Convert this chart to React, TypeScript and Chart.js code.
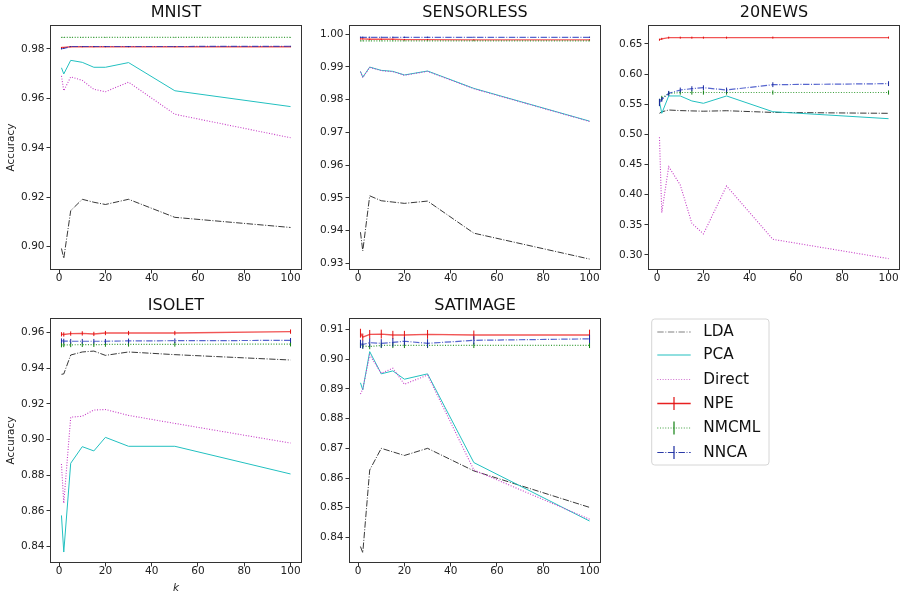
import { useEffect, useRef } from "react";
import { Chart, registerables } from "chart.js";

Chart.register(...registerables);
Chart.defaults.font.family = "'DejaVu Sans', 'Liberation Sans', sans-serif";
Chart.defaults.color = "#222";

// ---------------- data ----------------
const K = [1, 2, 5, 10, 15, 20, 30, 50, 100];
const METHODS = ["LDA", "PCA", "Direct", "NPE", "NMCML", "NNCA"];
const X_TICKS = [0, 20, 40, 60, 80, 100];
const X_RANGE = [-3.95, 104.95];

// MNIST
const MNIST_LDA = [0.8993, 0.8953, 0.9146, 0.9192, 0.918, 0.9171, 0.9192, 0.9119, 0.9078];
const MNIST_PCA = [0.9724, 0.9699, 0.9754, 0.9746, 0.9726, 0.9726, 0.9745, 0.9631, 0.9567];
const MNIST_DIRECT = [0.9691, 0.9631, 0.9687, 0.9673, 0.9637, 0.9627, 0.9666, 0.9536, 0.9441];
const MNIST_NPE = [0.9806, 0.9806, 0.9809, 0.9809, 0.9809, 0.9809, 0.9809, 0.9809, 0.9809];
const MNIST_NMCML = [0.9847, 0.9847, 0.9847, 0.9847, 0.9847, 0.9847, 0.9847, 0.9847, 0.9847];
const MNIST_NNCA = [0.9801, 0.9802, 0.981, 0.981, 0.981, 0.981, 0.981, 0.981, 0.9811];
const MNIST_NPE_ERR = [0.0002, 0.0002, 0.0002, 0.0002, 0.0002, 0.0002, 0.0002, 0.0002, 0.0002];
const MNIST_NMCML_ERR = [0.0001, 0.0001, 0.0001, 0.0001, 0.0001, 0.0001, 0.0001, 0.0001, 0.0001];
const MNIST_NNCA_ERR = [0.0003, 0.0002, 0.0002, 0.0002, 0.0002, 0.0002, 0.0002, 0.0002, 0.0002];
const MNIST_YTICKS = [0.9, 0.92, 0.94, 0.96, 0.98];
const MNIST_YRANGE = [0.8906, 0.9897];

// SENSORLESS
const SENS_LDA = [0.9395, 0.9338, 0.9506, 0.9491, 0.9487, 0.9483, 0.949, 0.9392, 0.9313];
const SENS_PCA = [0.9886, 0.9868, 0.9899, 0.9889, 0.9886, 0.9875, 0.9887, 0.9834, 0.9734];
const SENS_DIRECT = [0.9885, 0.9867, 0.9898, 0.9888, 0.9885, 0.9874, 0.9886, 0.9833, 0.9733];
const SENS_NPE = [0.9985, 0.9985, 0.9984, 0.9984, 0.9984, 0.9983, 0.9983, 0.9982, 0.9982];
const SENS_NMCML = [0.9979, 0.9979, 0.9979, 0.9979, 0.9979, 0.9979, 0.9979, 0.9979, 0.9979];
const SENS_NNCA = [0.999, 0.999, 0.999, 0.999, 0.999, 0.999, 0.999, 0.999, 0.999];
const SENS_NPE_ERR = [0.0002, 0.0002, 0.0002, 0.0002, 0.0002, 0.0002, 0.0002, 0.0002, 0.0002];
const SENS_NMCML_ERR = [0.0001, 0.0001, 0.0001, 0.0001, 0.0001, 0.0001, 0.0001, 0.0001, 0.0001];
const SENS_NNCA_ERR = [0.0002, 0.0002, 0.0002, 0.0002, 0.0002, 0.0002, 0.0002, 0.0002, 0.0002];
const SENS_YTICKS = [0.93, 0.94, 0.95, 0.96, 0.97, 0.98, 0.99, 1.0];
const SENS_YRANGE = [0.92796, 1.00275];

// 20NEWS
const NEWS_LDA = [0.535, 0.5375, 0.5405, 0.5395, 0.539, 0.5385, 0.5393, 0.5365, 0.535];
const NEWS_PCA = [0.5543, 0.535, 0.5638, 0.5638, 0.5555, 0.5516, 0.5638, 0.5377, 0.5261];
const NEWS_DIRECT = [0.4952, 0.3702, 0.4465, 0.4161, 0.3526, 0.3349, 0.4145, 0.326, 0.294];
const NEWS_NPE = [0.6571, 0.6585, 0.6605, 0.6605, 0.6605, 0.6605, 0.6605, 0.6606, 0.6606];
const NEWS_NMCML = [0.553, 0.56, 0.568, 0.5695, 0.5695, 0.5695, 0.5695, 0.5695, 0.5695];
const NEWS_NNCA = [0.553, 0.558, 0.5682, 0.5737, 0.5759, 0.5775, 0.5737, 0.5825, 0.5842];
const NEWS_NPE_ERR = [0.0017, 0.0017, 0.0017, 0.0017, 0.0017, 0.0017, 0.0017, 0.0017, 0.0017];
const NEWS_NMCML_ERR = [0.006, 0.004, 0.0035, 0.0035, 0.0035, 0.0035, 0.0035, 0.0035, 0.0035];
const NEWS_NNCA_ERR = [0.006, 0.004, 0.004, 0.004, 0.004, 0.004, 0.004, 0.004, 0.004];
const NEWS_YTICKS = [0.3, 0.35, 0.4, 0.45, 0.5, 0.55, 0.6, 0.65];
const NEWS_YRANGE = [0.2751, 0.6815];

// ISOLET
const ISO_LDA = [0.9365, 0.9367, 0.9473, 0.949, 0.9495, 0.9471, 0.949, 0.9475, 0.9445];
const ISO_PCA = [0.8575, 0.837, 0.8867, 0.896, 0.8936, 0.9012, 0.8962, 0.8962, 0.8807];
const ISO_DIRECT = [0.8863, 0.8643, 0.9125, 0.913, 0.9165, 0.9168, 0.9135, 0.909, 0.898];
const ISO_NPE = [0.9589, 0.9588, 0.9593, 0.9594, 0.9591, 0.9596, 0.9596, 0.9596, 0.9604];
const ISO_NMCML = [0.9529, 0.953, 0.953, 0.9531, 0.9531, 0.9532, 0.9533, 0.9533, 0.9534];
const ISO_NNCA = [0.9553, 0.9551, 0.955, 0.955, 0.955, 0.955, 0.9552, 0.9553, 0.9555];
const ISO_NPE_ERR = [0.0012, 0.0012, 0.0012, 0.0012, 0.0012, 0.0012, 0.0012, 0.0012, 0.0012];
const ISO_NMCML_ERR = [0.0013, 0.0013, 0.0013, 0.0013, 0.0013, 0.0013, 0.0013, 0.0013, 0.0013];
const ISO_NNCA_ERR = [0.0013, 0.0013, 0.0013, 0.0013, 0.0013, 0.0013, 0.0013, 0.0013, 0.0013];
const ISO_YTICKS = [0.84, 0.86, 0.88, 0.9, 0.92, 0.94, 0.96];
const ISO_YRANGE = [0.83086, 0.96802];

// SATIMAGE
const SAT_LDA = [0.8369, 0.8348, 0.8627, 0.87, 0.8688, 0.8676, 0.87, 0.8624, 0.8501];
const SAT_PCA = [0.8921, 0.8897, 0.9026, 0.8951, 0.8961, 0.8933, 0.8951, 0.8652, 0.8455];
const SAT_DIRECT = [0.8883, 0.89, 0.9015, 0.8953, 0.897, 0.8916, 0.8947, 0.8627, 0.8461];
const SAT_NPE = [0.9088, 0.9075, 0.9084, 0.9085, 0.9082, 0.9082, 0.9084, 0.9082, 0.9082];
const SAT_NMCML = [0.9048, 0.9045, 0.9043, 0.9047, 0.9047, 0.9047, 0.9047, 0.9047, 0.9047];
const SAT_NNCA = [0.9052, 0.905, 0.9056, 0.9054, 0.9057, 0.9061, 0.9054, 0.9064, 0.9069];
const SAT_NPE_ERR = [0.0015, 0.0012, 0.0015, 0.0015, 0.0014, 0.0014, 0.0015, 0.0015, 0.0018];
const SAT_NMCML_ERR = [0.0009, 0.0009, 0.0009, 0.0009, 0.0009, 0.0009, 0.0009, 0.0009, 0.0009];
const SAT_NNCA_ERR = [0.0014, 0.0014, 0.0014, 0.0014, 0.0014, 0.0014, 0.0014, 0.0014, 0.0014];
const SAT_YTICKS = [0.84, 0.85, 0.86, 0.87, 0.88, 0.89, 0.9, 0.91];
const SAT_YRANGE = [0.83135, 0.91393];

// ---------------- styles ----------------
const DASHDOT = [6.4, 1.6, 1, 1.6];
const DOTTED = [1, 1.65];
const STYLES = [
  { color: "rgba(0,0,0,0.78)", dash: DASHDOT, width: 1, err: "#000" },
  { color: "#22c0c0", dash: [], width: 1, err: "#22c0c0" },
  { color: "#c63cc6", dash: DOTTED, width: 1.1, err: "#c63cc6" },
  { color: "rgba(235,20,20,0.72)", dash: [], width: 1.4, err: "#e01010" },
  { color: "rgba(20,140,20,0.85)", dash: DOTTED, width: 1.2, err: "#108010" },
  { color: "rgba(30,50,190,0.75)", dash: DASHDOT, width: 1.2, err: "#1a2aa0" },
];
const LEGEND_COLORS = ["#808080", "#22c0c0", "#d070d0", "#e82020", "#40a040", "#2a3aa8"];

const PANELS = [
  { title: "MNIST", col: 0, row: 0, yLabel: true, xLabel: false,
    series: [MNIST_LDA, MNIST_PCA, MNIST_DIRECT, MNIST_NPE, MNIST_NMCML, MNIST_NNCA],
    errs: [null, null, null, MNIST_NPE_ERR, MNIST_NMCML_ERR, MNIST_NNCA_ERR],
    yTicks: MNIST_YTICKS, yRange: MNIST_YRANGE },
  { title: "SENSORLESS", col: 1, row: 0, yLabel: false, xLabel: false,
    series: [SENS_LDA, SENS_PCA, SENS_DIRECT, SENS_NPE, SENS_NMCML, SENS_NNCA],
    errs: [null, null, null, SENS_NPE_ERR, SENS_NMCML_ERR, SENS_NNCA_ERR],
    yTicks: SENS_YTICKS, yRange: SENS_YRANGE },
  { title: "20NEWS", col: 2, row: 0, yLabel: false, xLabel: false,
    series: [NEWS_LDA, NEWS_PCA, NEWS_DIRECT, NEWS_NPE, NEWS_NMCML, NEWS_NNCA],
    errs: [null, null, null, NEWS_NPE_ERR, NEWS_NMCML_ERR, NEWS_NNCA_ERR],
    yTicks: NEWS_YTICKS, yRange: NEWS_YRANGE },
  { title: "ISOLET", col: 0, row: 1, yLabel: true, xLabel: true,
    series: [ISO_LDA, ISO_PCA, ISO_DIRECT, ISO_NPE, ISO_NMCML, ISO_NNCA],
    errs: [null, null, null, ISO_NPE_ERR, ISO_NMCML_ERR, ISO_NNCA_ERR],
    yTicks: ISO_YTICKS, yRange: ISO_YRANGE },
  { title: "SATIMAGE", col: 1, row: 1, yLabel: false, xLabel: false,
    series: [SAT_LDA, SAT_PCA, SAT_DIRECT, SAT_NPE, SAT_NMCML, SAT_NNCA],
    errs: [null, null, null, SAT_NPE_ERR, SAT_NMCML_ERR, SAT_NNCA_ERR],
    yTicks: SAT_YTICKS, yRange: SAT_YRANGE },
];

// ---------------- layout ----------------
const COL_L = [50, 349, 648];
const ROW_T = [25, 318];
const PLOT_W = 252;
const PLOT_H = 245;
const Y_AXIS_W = 50;
const TITLE_H = 25;
const X_AXIS_H = [23, 34];

const errorBarPlugin = {
  id: "errbars",
  afterDatasetDraw(chart: any, args: any) {
    const ds = chart.data.datasets[args.index];
    if (!ds.errors) return;
    const { ctx, chartArea, scales } = chart;
    ctx.save();
    ctx.beginPath();
    ctx.rect(chartArea.left, chartArea.top, chartArea.width, chartArea.height);
    ctx.clip();
    ctx.strokeStyle = ds.errColor;
    ctx.lineWidth = 1;
    ctx.setLineDash([]);
    ds.data.forEach((p: any, j: number) => {
      const e = ds.errors[j];
      const x = scales.x.getPixelForValue(p.x);
      const y1 = scales.y.getPixelForValue(p.y - e);
      const y2 = scales.y.getPixelForValue(p.y + e);
      ctx.beginPath();
      ctx.moveTo(x, y1);
      ctx.lineTo(x, y2);
      ctx.stroke();
    });
    ctx.restore();
  },
};

const framePlugin = {
  id: "frame",
  afterDraw(chart: any) {
    const { ctx, chartArea } = chart;
    ctx.save();
    ctx.strokeStyle = "#333";
    ctx.lineWidth = 1;
    ctx.setLineDash([]);
    ctx.strokeRect(
      Math.round(chartArea.left) + 0.5,
      Math.round(chartArea.top) + 0.5,
      Math.round(chartArea.width) - 1,
      Math.round(chartArea.height) - 1
    );
    ctx.restore();
  },
};

function Panel({ p }: { p: (typeof PANELS)[number] }) {
  const ref = useRef<HTMLCanvasElement>(null);
  const padR = p.col < 2 ? 4 : 0;
  const xH = X_AXIS_H[p.row];
  const width = Y_AXIS_W + PLOT_W + padR;
  const height = TITLE_H + PLOT_H + xH;
  const left = COL_L[p.col] - Y_AXIS_W;
  const top = ROW_T[p.row] - TITLE_H;

  useEffect(() => {
    const datasets = p.series.map((vals, i) => ({
      label: METHODS[i],
      data: K.map((k, j) => ({ x: k, y: vals[j] })),
      borderColor: STYLES[i].color,
      borderWidth: STYLES[i].width,
      borderDash: STYLES[i].dash,
      pointRadius: 0,
      tension: 0,
      fill: false,
      order: 5 - i,
      errors: p.errs[i],
      errColor: STYLES[i].err,
    }));
    const tickFont = { size: 10.5, lineHeight: 1 };
    const chart = new Chart(ref.current!, {
      type: "line",
      data: { datasets: datasets as any },
      options: {
        responsive: false,
        animation: false,
        events: [],
        layout: { padding: { left: 0, right: padR, top: 0, bottom: 0 } },
        plugins: {
          legend: { display: false },
          tooltip: { enabled: false },
          title: {
            display: true,
            text: p.title,
            color: "#111",
            fullSize: false,
            font: { size: 16, weight: "normal", lineHeight: 1.2 },
            padding: { top: 3, bottom: 2.8 },
          },
        },
        scales: {
          x: {
            type: "linear",
            min: X_RANGE[0],
            max: X_RANGE[1],
            afterBuildTicks: (s: any) => {
              s.ticks = X_TICKS.map((v) => ({ value: v }));
            },
            afterFit: (s: any) => {
              s.height = xH;
            },
            ticks: { autoSkip: false, maxRotation: 0, padding: 0, font: tickFont, color: "#222",
              callback: (v: any) => String(v) },
            grid: { drawOnChartArea: false, drawTicks: true, tickLength: 3.5, color: "#333" },
            border: { display: false },
            title: {
              display: p.xLabel,
              text: "k",
              color: "#222",
              font: { size: 10.5, style: "italic", lineHeight: 1.2 },
              padding: { top: 0, bottom: 2 },
            },
          },
          y: {
            type: "linear",
            min: p.yRange[0],
            max: p.yRange[1],
            afterBuildTicks: (s: any) => {
              s.ticks = p.yTicks.map((v) => ({ value: v }));
            },
            afterFit: (s: any) => {
              s.width = Y_AXIS_W;
            },
            ticks: { autoSkip: false, padding: 2, font: tickFont, color: "#222",
              callback: (v: any) => Number(v).toFixed(2) },
            grid: { drawOnChartArea: false, drawTicks: true, tickLength: 3.5, color: "#333" },
            border: { display: false },
            title: {
              display: p.yLabel,
              text: "Accuracy",
              color: "#222",
              font: { size: 10.5, lineHeight: 1.2 },
              padding: { top: 5, bottom: 0 },
            },
          },
        },
      } as any,
      plugins: [errorBarPlugin, framePlugin],
    });
    return () => chart.destroy();
  }, []);

  return (
    <canvas
      ref={ref}
      width={width}
      height={height}
      style={{ position: "absolute", left, top, width, height, display: "block" }}
    />
  );
}

// legend geometry (canvas-local)
const LEG_LEFT = 645;
const LEG_TOP = 312;
const LEG_W = 130;
const LEG_H = 160;
const LEG_ROWS = [20, 43, 67.5, 91.5, 116, 140.5];

const legendPlugin = {
  id: "customLegend",
  afterDraw(chart: any) {
    const { ctx } = chart;
    const ds = chart.data.datasets;
    ctx.save();
    const bx = 6.7, by = 7, bw = 117.3, bh = 146, r = 3;
    ctx.beginPath();
    ctx.moveTo(bx + r, by);
    ctx.lineTo(bx + bw - r, by);
    ctx.arcTo(bx + bw, by, bx + bw, by + r, r);
    ctx.lineTo(bx + bw, by + bh - r);
    ctx.arcTo(bx + bw, by + bh, bx + bw - r, by + bh, r);
    ctx.lineTo(bx + r, by + bh);
    ctx.arcTo(bx, by + bh, bx, by + bh - r, r);
    ctx.lineTo(bx, by + r);
    ctx.arcTo(bx, by, bx + r, by, r);
    ctx.closePath();
    ctx.fillStyle = "rgba(255,255,255,0.8)";
    ctx.fill();
    ctx.strokeStyle = "#d6d6d6";
    ctx.lineWidth = 1;
    ctx.stroke();
    const x0 = 12.3, x1 = 45.7;
    ds.forEach((d: any, i: number) => {
      const y = LEG_ROWS[i];
      ctx.strokeStyle = d.borderColor;
      ctx.lineWidth = d.borderWidth;
      ctx.setLineDash(d.borderDash);
      ctx.beginPath();
      ctx.moveTo(x0, y);
      ctx.lineTo(x1, y);
      ctx.stroke();
      if (d.hasErr) {
        ctx.setLineDash([]);
        ctx.strokeStyle = d.errColor;
        ctx.lineWidth = 1.2;
        ctx.beginPath();
        ctx.moveTo((x0 + x1) / 2, y - 6.5);
        ctx.lineTo((x0 + x1) / 2, y + 6.5);
        ctx.stroke();
      }
      ctx.setLineDash([]);
      ctx.fillStyle = "#111";
      ctx.font = "15.3px 'DejaVu Sans', sans-serif";
      ctx.textBaseline = "middle";
      ctx.textAlign = "left";
      ctx.fillText(d.label, 58.3, y + 0.5);
    });
    ctx.restore();
  },
};

function Legend() {
  const ref = useRef<HTMLCanvasElement>(null);
  useEffect(() => {
    const chart = new Chart(ref.current!, {
      type: "line",
      data: {
        datasets: METHODS.map((m, i) => ({
          label: m,
          data: [],
          borderColor: LEGEND_COLORS[i],
          borderWidth: i === 3 ? 1.5 : 1.2,
          borderDash: STYLES[i].dash,
          hasErr: i >= 3,
          errColor: STYLES[i].err,
        })) as any,
      },
      options: {
        responsive: false,
        animation: false,
        events: [],
        plugins: { legend: { display: false }, tooltip: { enabled: false } },
        scales: { x: { display: false }, y: { display: false } },
      } as any,
      plugins: [legendPlugin],
    });
    return () => chart.destroy();
  }, []);
  return (
    <canvas
      ref={ref}
      width={LEG_W}
      height={LEG_H}
      style={{ position: "absolute", left: LEG_LEFT, top: LEG_TOP, width: LEG_W, height: LEG_H, display: "block" }}
    />
  );
}

export default function App() {
  return (
    <div style={{ position: "absolute", left: 0, top: 0, width: 900, height: 597, background: "#fff", overflow: "hidden" }}>
      {PANELS.map((p) => (
        <Panel key={p.title} p={p} />
      ))}
      <Legend />
    </div>
  );
}
